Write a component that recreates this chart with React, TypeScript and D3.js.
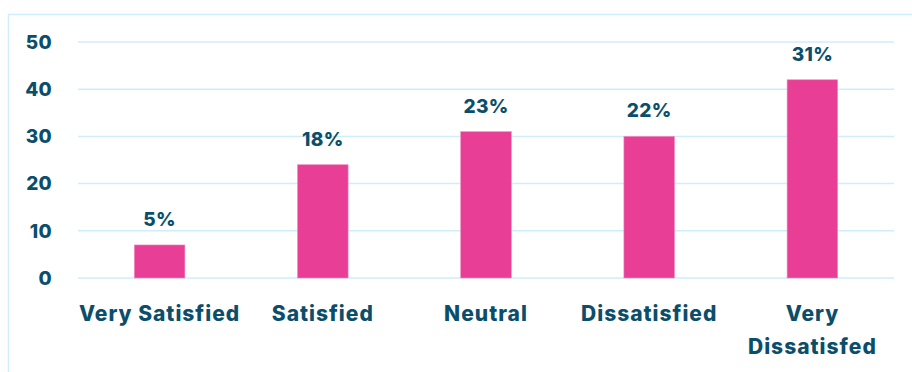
import React from "react";
import * as d3 from "d3";

const categories = ["Very Satisfied", "Satisfied", "Neutral", "Dissatisfied", "Very Dissatisfied"];
const values = [7, 24, 31, 30, 42];
const percentLabels = ["5%", "18%", "23%", "22%", "31%"];
const yTicks = [0, 10, 20, 30, 40, 50];
const categoryLines: string[][] = [["Very Satisfied"], ["Satisfied"], ["Neutral"], ["Dissatisfied"], ["Very", "Dissatisfed"]];

const W = 912;
const H = 372;
const margin = { left: 78, right: 18, top: 42, bottom: 94 };
const TEXT = "#0b4e6b";
const PINK = "#e83e96";
const GRID = "#cfeefc";
const FONT = "Inter, 'Open Sans', sans-serif";

export default function App() {
  const x = d3
    .scaleBand<string>()
    .domain(categories)
    .range([margin.left, W - margin.right])
    .paddingInner(0.69)
    .paddingOuter(0.345);
  const y = d3.scaleLinear().domain([0, 50]).range([H - margin.bottom, margin.top]);

  return (
    <svg width={W} height={H} style={{ position: "absolute", left: 0, top: 0 }}>
      <rect x={0} y={0} width={W} height={H} fill="#fff" />
      <line x1={8.5} y1={14} x2={8.5} y2={H} stroke={GRID} strokeWidth={1.5} />
      <line x1={8} y1={14.5} x2={W} y2={14.5} stroke={GRID} strokeWidth={1.5} />
      {yTicks.map((t) => (
        <g key={t}>
          <line x1={margin.left} x2={W - margin.right} y1={y(t)} y2={y(t)} stroke={GRID} strokeWidth={1.5} />
          <text
            x={52}
            y={y(t)}
            dy="0.36em"
            textAnchor="end"
            fontFamily={FONT}
            fontWeight={800}
            fontSize={19}
            letterSpacing={0.3}
            fill={TEXT}
          >
            {t}
          </text>
        </g>
      ))}
      {categories.map((c, i) => {
        const bx = x(c)!;
        const bw = x.bandwidth();
        const cx = bx + bw / 2;
        return (
          <g key={c}>
            <rect x={bx} y={y(values[i])} width={bw} height={y(0) - y(values[i])} fill={PINK} stroke="#f08cc0" strokeWidth={0.6} />
            <text
              x={cx}
              y={y(values[i]) - 19}
              textAnchor="middle"
              fontFamily={FONT}
              fontWeight={800}
              fontSize={19}
              letterSpacing={0.3}
              fill={TEXT}
            >
              {percentLabels[i]}
            </text>
            {categoryLines[i].map((ln, j) => (
              <text
                key={j}
                x={cx}
                y={321 + j * 33}
                textAnchor="middle"
                fontFamily={FONT}
                fontWeight={800}
                fontSize={21}
                letterSpacing={1}
                fill={TEXT}
              >
                {ln}
              </text>
            ))}
          </g>
        );
      })}
    </svg>
  );
}
